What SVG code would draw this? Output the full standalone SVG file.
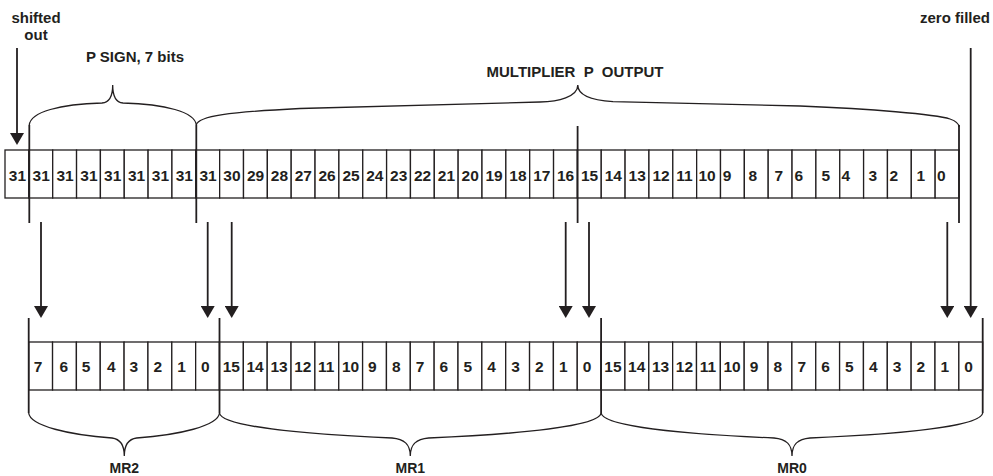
<svg xmlns="http://www.w3.org/2000/svg" width="993" height="476" viewBox="0 0 993 476">
<style>
.c{fill:#fff;stroke:#231f20;stroke-width:1.3}
.n{font-family:"Liberation Sans",Arial,sans-serif;font-weight:bold;font-size:15.5px;fill:#231f20}
.l{font-family:"Liberation Sans",Arial,sans-serif;font-weight:bold;font-size:15px;fill:#231f20;text-anchor:middle;white-space:pre}
.m{font-family:"Liberation Sans",Arial,sans-serif;font-weight:bold;font-size:14px;fill:#231f20;text-anchor:middle}
.a{stroke:#231f20;stroke-width:1.8;fill:none;marker-end:url(#ah)}
.d{stroke:#231f20;stroke-width:1.8;fill:none}
.b{stroke:#231f20;stroke-width:1.3;fill:none}
</style>
<defs>
<marker id="ah" viewBox="0 -7 12 14" refX="0" refY="0" markerWidth="12" markerHeight="14" markerUnits="userSpaceOnUse" orient="auto"><path d="M0,-7 L12,0 L0,7 z" fill="#231f20"/></marker>
</defs>
<rect width="993" height="476" fill="#fff"/>
<g id="top-row">
<g id="t0"><rect class="c" x="5" y="150" width="23.85" height="48"/><text class="n" x="8.8" y="180.5">31</text></g>
<g id="t1"><rect class="c" x="28.85" y="150" width="23.85" height="48"/><text class="n" x="32.6" y="180.5">31</text></g>
<g id="t2"><rect class="c" x="52.7" y="150" width="23.85" height="48"/><text class="n" x="56.4" y="180.5">31</text></g>
<g id="t3"><rect class="c" x="76.55" y="150" width="23.85" height="48"/><text class="n" x="80.3" y="180.5">31</text></g>
<g id="t4"><rect class="c" x="100.4" y="150" width="23.85" height="48"/><text class="n" x="104.1" y="180.5">31</text></g>
<g id="t5"><rect class="c" x="124.25" y="150" width="23.85" height="48"/><text class="n" x="128" y="180.5">31</text></g>
<g id="t6"><rect class="c" x="148.1" y="150" width="23.85" height="48"/><text class="n" x="151.8" y="180.5">31</text></g>
<g id="t7"><rect class="c" x="171.95" y="150" width="23.85" height="48"/><text class="n" x="175.7" y="180.5">31</text></g>
<g id="t8"><rect class="c" x="195.8" y="150" width="23.85" height="48"/><text class="n" x="199.5" y="180.5">31</text></g>
<g id="t9"><rect class="c" x="219.65" y="150" width="23.85" height="48"/><text class="n" x="223.3" y="180.5">30</text></g>
<g id="t10"><rect class="c" x="243.5" y="150" width="23.85" height="48"/><text class="n" x="247" y="180.5">29</text></g>
<g id="t11"><rect class="c" x="267.35" y="150" width="23.85" height="48"/><text class="n" x="270.8" y="180.5">28</text></g>
<g id="t12"><rect class="c" x="291.2" y="150" width="23.85" height="48"/><text class="n" x="294.7" y="180.5">27</text></g>
<g id="t13"><rect class="c" x="315.05" y="150" width="23.85" height="48"/><text class="n" x="318.5" y="180.5">26</text></g>
<g id="t14"><rect class="c" x="338.9" y="150" width="23.85" height="48"/><text class="n" x="342.4" y="180.5">25</text></g>
<g id="t15"><rect class="c" x="362.75" y="150" width="23.85" height="48"/><text class="n" x="366.2" y="180.5">24</text></g>
<g id="t16"><rect class="c" x="386.6" y="150" width="23.85" height="48"/><text class="n" x="390.1" y="180.5">23</text></g>
<g id="t17"><rect class="c" x="410.45" y="150" width="23.85" height="48"/><text class="n" x="413.9" y="180.5">22</text></g>
<g id="t18"><rect class="c" x="434.3" y="150" width="23.85" height="48"/><text class="n" x="437.8" y="180.5">21</text></g>
<g id="t19"><rect class="c" x="458.15" y="150" width="23.85" height="48"/><text class="n" x="461.6" y="180.5">20</text></g>
<g id="t20"><rect class="c" x="482" y="150" width="23.85" height="48"/><text class="n" x="485.5" y="180.5">19</text></g>
<g id="t21"><rect class="c" x="505.85" y="150" width="23.85" height="48"/><text class="n" x="509.3" y="180.5">18</text></g>
<g id="t22"><rect class="c" x="529.7" y="150" width="23.85" height="48"/><text class="n" x="533.2" y="180.5">17</text></g>
<g id="t23"><rect class="c" x="553.55" y="150" width="23.85" height="48"/><text class="n" x="557" y="180.5">16</text></g>
<g id="t24"><rect class="c" x="577.4" y="150" width="23.85" height="48"/><text class="n" x="580.9" y="180.5">15</text></g>
<g id="t25"><rect class="c" x="601.25" y="150" width="23.85" height="48"/><text class="n" x="604.7" y="180.5">14</text></g>
<g id="t26"><rect class="c" x="625.1" y="150" width="23.85" height="48"/><text class="n" x="628.6" y="180.5">13</text></g>
<g id="t27"><rect class="c" x="648.95" y="150" width="23.85" height="48"/><text class="n" x="652.4" y="180.5">12</text></g>
<g id="t28"><rect class="c" x="672.8" y="150" width="23.85" height="48"/><text class="n" x="676.3" y="180.5">11</text></g>
<g id="t29"><rect class="c" x="696.65" y="150" width="23.85" height="48"/><text class="n" x="698.5" y="180.5">10</text></g>
<g id="t30"><rect class="c" x="720.5" y="150" width="23.85" height="48"/><text class="n" x="722.7" y="180.5">9</text></g>
<g id="t31"><rect class="c" x="744.35" y="150" width="23.85" height="48"/><text class="n" x="748.4" y="180.5">8</text></g>
<g id="t32"><rect class="c" x="768.2" y="150" width="23.85" height="48"/><text class="n" x="774.4" y="180.5">7</text></g>
<g id="t33"><rect class="c" x="792.05" y="150" width="23.85" height="48"/><text class="n" x="794.4" y="180.5">6</text></g>
<g id="t34"><rect class="c" x="815.9" y="150" width="23.85" height="48"/><text class="n" x="821.4" y="180.5">5</text></g>
<g id="t35"><rect class="c" x="839.75" y="150" width="23.85" height="48"/><text class="n" x="841.6" y="180.5">4</text></g>
<g id="t36"><rect class="c" x="863.6" y="150" width="23.85" height="48"/><text class="n" x="868.4" y="180.5">3</text></g>
<g id="t37"><rect class="c" x="887.45" y="150" width="23.85" height="48"/><text class="n" x="889.4" y="180.5">2</text></g>
<g id="t38"><rect class="c" x="911.3" y="150" width="23.85" height="48"/><text class="n" x="916.6" y="180.5">1</text></g>
<g id="t39"><rect class="c" x="935.15" y="150" width="23.85" height="48"/><text class="n" x="937.1" y="180.5">0</text></g>
</g>
<g id="bottom-row">
<g id="b0"><rect class="c" x="28.7" y="342" width="23.85" height="48"/><text class="n" x="33.7" y="372">7</text></g>
<g id="b1"><rect class="c" x="52.55" y="342" width="23.85" height="48"/><text class="n" x="59.4" y="372">6</text></g>
<g id="b2"><rect class="c" x="76.4" y="342" width="23.85" height="48"/><text class="n" x="81.7" y="372">5</text></g>
<g id="b3"><rect class="c" x="100.25" y="342" width="23.85" height="48"/><text class="n" x="107" y="372">4</text></g>
<g id="b4"><rect class="c" x="124.1" y="342" width="23.85" height="48"/><text class="n" x="129.6" y="372">3</text></g>
<g id="b5"><rect class="c" x="147.95" y="342" width="23.85" height="48"/><text class="n" x="153.4" y="372">2</text></g>
<g id="b6"><rect class="c" x="171.8" y="342" width="23.85" height="48"/><text class="n" x="177.3" y="372">1</text></g>
<g id="b7"><rect class="c" x="195.65" y="342" width="23.85" height="48"/><text class="n" x="201.1" y="372">0</text></g>
<g id="b8"><rect class="c" x="219.5" y="342" width="23.85" height="48"/><text class="n" x="222.7" y="372">15</text></g>
<g id="b9"><rect class="c" x="243.35" y="342" width="23.85" height="48"/><text class="n" x="246.5" y="372">14</text></g>
<g id="b10"><rect class="c" x="267.2" y="342" width="23.85" height="48"/><text class="n" x="270.4" y="372">13</text></g>
<g id="b11"><rect class="c" x="291.05" y="342" width="23.85" height="48"/><text class="n" x="294.2" y="372">12</text></g>
<g id="b12"><rect class="c" x="314.9" y="342" width="23.85" height="48"/><text class="n" x="318.1" y="372">11</text></g>
<g id="b13"><rect class="c" x="338.75" y="342" width="23.85" height="48"/><text class="n" x="341.9" y="372">10</text></g>
<g id="b14"><rect class="c" x="362.6" y="342" width="23.85" height="48"/><text class="n" x="368.1" y="372">9</text></g>
<g id="b15"><rect class="c" x="386.45" y="342" width="23.85" height="48"/><text class="n" x="391.9" y="372">8</text></g>
<g id="b16"><rect class="c" x="410.3" y="342" width="23.85" height="48"/><text class="n" x="415.8" y="372">7</text></g>
<g id="b17"><rect class="c" x="434.15" y="342" width="23.85" height="48"/><text class="n" x="439.6" y="372">6</text></g>
<g id="b18"><rect class="c" x="458" y="342" width="23.85" height="48"/><text class="n" x="463.5" y="372">5</text></g>
<g id="b19"><rect class="c" x="481.85" y="342" width="23.85" height="48"/><text class="n" x="487.3" y="372">4</text></g>
<g id="b20"><rect class="c" x="505.7" y="342" width="23.85" height="48"/><text class="n" x="511.2" y="372">3</text></g>
<g id="b21"><rect class="c" x="529.55" y="342" width="23.85" height="48"/><text class="n" x="535" y="372">2</text></g>
<g id="b22"><rect class="c" x="553.4" y="342" width="23.85" height="48"/><text class="n" x="558.9" y="372">1</text></g>
<g id="b23"><rect class="c" x="577.25" y="342" width="23.85" height="48"/><text class="n" x="582.7" y="372">0</text></g>
<g id="b24"><rect class="c" x="601.1" y="342" width="23.85" height="48"/><text class="n" x="604.3" y="372">15</text></g>
<g id="b25"><rect class="c" x="624.95" y="342" width="23.85" height="48"/><text class="n" x="628.1" y="372">14</text></g>
<g id="b26"><rect class="c" x="648.8" y="342" width="23.85" height="48"/><text class="n" x="652" y="372">13</text></g>
<g id="b27"><rect class="c" x="672.65" y="342" width="23.85" height="48"/><text class="n" x="675.8" y="372">12</text></g>
<g id="b28"><rect class="c" x="696.5" y="342" width="23.85" height="48"/><text class="n" x="699.7" y="372">11</text></g>
<g id="b29"><rect class="c" x="720.35" y="342" width="23.85" height="48"/><text class="n" x="723.5" y="372">10</text></g>
<g id="b30"><rect class="c" x="744.2" y="342" width="23.85" height="48"/><text class="n" x="749.7" y="372">9</text></g>
<g id="b31"><rect class="c" x="768.05" y="342" width="23.85" height="48"/><text class="n" x="773.5" y="372">8</text></g>
<g id="b32"><rect class="c" x="791.9" y="342" width="23.85" height="48"/><text class="n" x="797.4" y="372">7</text></g>
<g id="b33"><rect class="c" x="815.75" y="342" width="23.85" height="48"/><text class="n" x="821.2" y="372">6</text></g>
<g id="b34"><rect class="c" x="839.6" y="342" width="23.85" height="48"/><text class="n" x="845.1" y="372">5</text></g>
<g id="b35"><rect class="c" x="863.45" y="342" width="23.85" height="48"/><text class="n" x="868.9" y="372">4</text></g>
<g id="b36"><rect class="c" x="887.3" y="342" width="23.85" height="48"/><text class="n" x="892.8" y="372">3</text></g>
<g id="b37"><rect class="c" x="911.15" y="342" width="23.85" height="48"/><text class="n" x="916.6" y="372">2</text></g>
<g id="b38"><rect class="c" x="935" y="342" width="23.85" height="48"/><text class="n" x="940.5" y="372">1</text></g>
<g id="b39"><rect class="c" x="958.85" y="342" width="23.85" height="48"/><text class="n" x="964.3" y="372">0</text></g>
</g>
<g id="labels">
<text class="l" x="36" y="22.7">shifted</text>
<text class="l" x="36" y="40">out</text>
<text class="l" x="135" y="61.7">P SIGN, 7 bits</text>
<text class="l" x="575" y="76.7">MULTIPLIER  P  OUTPUT</text>
<text class="l" x="955" y="22.7">zero filled</text>
<text class="m" x="124.3" y="473">MR2</text>
<text class="m" x="410.3" y="473">MR1</text>
<text class="m" x="792" y="473">MR0</text>
</g>
<g id="braces">
<path class="b" d="M29.3,125 C30.5,112 60,104 102,103 C109,102.5 112.7,97 112.7,85 C112.7,97 116,102.5 123,103 C165,104 195,112 196.3,125"/>
<path class="b" d="M196.3,125 C198,116 230,112 300,108.5 L540,102 C558,101.5 577.8,97 577.8,85 C577.8,97 595,100.5 613,101.7 L800,106 C870,109 935,114 950,119 C957,121.5 959,124 959,127"/>
<path class="b" d="M28.7,413 C30,426 70,435 112,438 C120,439 124.3,444 124.3,456 C124.3,444 128.6,439 136.6,438 C178.6,435 218.2,426 219.5,413"/>
<path class="b" d="M219.5,413 C221,426 300,434 392,438 C404,439 410.3,444 410.3,456 C410.3,444 416.6,439 428.6,438 C520.6,434 599.6,426 601.1,413"/>
<path class="b" d="M601.1,413 C602.6,426 680,434 774,438 C786,439 792,444 792,456 C792,444 798,439 810,438 C904,434 981.2,426 982.7,413"/>
</g>
<g id="connectors">
<line class="d" x1="29.3" y1="125" x2="29.3" y2="223"/>
<line class="d" x1="196.3" y1="125" x2="196.3" y2="223"/>
<line class="d" x1="577.6" y1="126" x2="577.6" y2="223"/>
<line class="d" x1="959" y1="125" x2="959" y2="223"/>
<line class="d" x1="28.7" y1="318" x2="28.7" y2="413"/>
<line class="d" x1="219.5" y1="318" x2="219.5" y2="413"/>
<line class="d" x1="601.1" y1="318" x2="601.1" y2="413"/>
<line class="d" x1="982.7" y1="318" x2="982.7" y2="413"/>
<line class="a" x1="17" y1="48" x2="17" y2="133"/>
<line class="a" x1="41" y1="222" x2="41" y2="306"/>
<line class="a" x1="207.7" y1="222" x2="207.7" y2="306"/>
<line class="a" x1="231.7" y1="222" x2="231.7" y2="306"/>
<line class="a" x1="565.7" y1="222" x2="565.7" y2="306"/>
<line class="a" x1="589" y1="222" x2="589" y2="306"/>
<line class="a" x1="947.3" y1="222" x2="947.3" y2="306"/>
<line class="a" x1="970.7" y1="48" x2="970.7" y2="306"/>
</g>
</svg>
